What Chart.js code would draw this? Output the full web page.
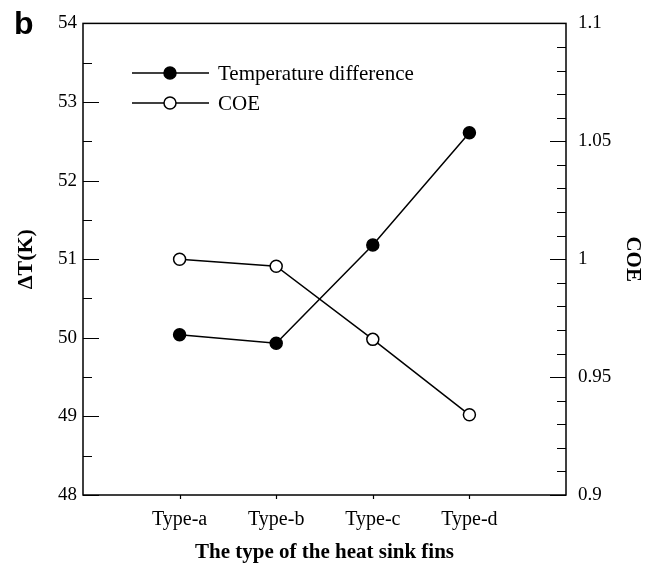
<!DOCTYPE html>
<html>
<head>
<meta charset="utf-8">
<script src="https://cdn.jsdelivr.net/npm/chart.js@4.4.1/dist/chart.umd.min.js"></script>
<style>
  html, body { margin: 0; padding: 0; background: #fff; }
  #wrap { width: 656px; height: 565px; }
</style>
</head>
<body>
<div id="wrap"><canvas id="myChart" width="656" height="565"></canvas></div>
<script>
// data
const categories = ['Type-a', 'Type-b', 'Type-c', 'Type-d'];
const tempDiff = [50.04, 49.93, 51.18, 52.61];
const coe = [1.0, 0.997, 0.966, 0.934];
const leftTicks = [48, 49, 50, 51, 52, 53, 54];
const rightTicks = [0.9, 0.95, 1, 1.05, 1.1];

const serif = "'Liberation Serif', 'Times New Roman', serif";

function toPoints(arr) {
	return arr.map((v, i) => ({ x: i + 1, y: v }));
}

// frame, ticks (major + minor), legend, panel letter
const decor = {
	id: 'decor',
	afterDraw(chart) {
		const c = chart.ctx;
		const a = chart.chartArea;
		const x = chart.scales.x;
		const y = chart.scales.y;
		const y2 = chart.scales.y2;
		c.save();
		c.strokeStyle = '#000';
		c.lineWidth = 1.5;
		c.strokeRect(a.left, a.top, a.right - a.left, a.bottom - a.top);

		c.beginPath();
		for (let v = 48; v <= 54.001; v += 0.5) {
			const py = Math.round(y.getPixelForValue(v)) + 0.5;
			const len = Math.abs(v - Math.round(v)) < 0.01 ? 16 : 9;
			c.moveTo(a.left, py);
			c.lineTo(a.left + len, py);
		}
		for (let k = 0; k <= 20; k++) {
			const v = 0.9 + k * 0.01;
			const py = Math.round(y2.getPixelForValue(v)) + 0.5;
			const len = k % 5 === 0 ? 16 : 9;
			c.moveTo(a.right, py);
			c.lineTo(a.right - len, py);
		}
		categories.forEach((cat, i) => {
			const px = Math.round(x.getPixelForValue(i + 1)) + 0.5;
			c.moveTo(px, a.bottom);
			c.lineTo(px, a.bottom + 4);
		});
		c.lineWidth = 1.2;
		c.stroke();

		// legend
		const rows = [
			{ ds: chart.data.datasets[0], y: 73 },
			{ ds: chart.data.datasets[1], y: 103 }
		];
		rows.forEach(r => {
			c.beginPath();
			c.moveTo(132, r.y);
			c.lineTo(209, r.y);
			c.lineWidth = 1.5;
			c.strokeStyle = '#000';
			c.stroke();
			c.beginPath();
			c.arc(170, r.y, 6, 0, Math.PI * 2);
			c.fillStyle = r.ds.pointBackgroundColor;
			c.fill();
			c.stroke();
			c.fillStyle = '#000';
			c.font = '21px ' + serif;
			c.textAlign = 'left';
			c.textBaseline = 'middle';
			c.fillText(r.ds.label, 218, r.y + 1);
		});

		c.font = 'bold 32px "Liberation Sans", Arial, sans-serif';
		c.textAlign = 'left';
		c.textBaseline = 'alphabetic';
		c.fillText('b', 14, 34);
		c.restore();
	}
};

const ctx = document.getElementById('myChart').getContext('2d');
const myChart = new Chart(ctx, {
	type: 'line',
	data: {
		datasets: [{
			label: 'Temperature difference',
			data: toPoints(tempDiff),
			yAxisID: 'y',
			borderColor: '#000',
			borderWidth: 1.5,
			pointRadius: 6,
			pointBorderWidth: 1.5,
			pointBorderColor: '#000',
			pointBackgroundColor: '#000',
			tension: 0
		}, {
			label: 'COE',
			data: toPoints(coe),
			yAxisID: 'y2',
			borderColor: '#000',
			borderWidth: 1.5,
			pointRadius: 6,
			pointBorderWidth: 1.5,
			pointBorderColor: '#000',
			pointBackgroundColor: '#fff',
			tension: 0
		}]
	},
	options: {
		responsive: false,
		animation: false,
		layout: { padding: { top: 15, left: 0, right: 0, bottom: 0 } },
		plugins: {
			legend: { display: false },
			tooltip: { enabled: false }
		},
		scales: {
			x: {
				type: 'linear',
				min: 0,
				max: 5,
				afterBuildTicks: s => { s.ticks = categories.map((c, i) => ({ value: i + 1 })); },
				afterFit: s => { s.height = 70; },
				grid: { display: false, drawTicks: false },
				border: { display: false },
				ticks: {
					padding: 13,
					color: '#000',
					font: { family: serif, size: 20 },
					callback: v => categories[v - 1] || ''
				},
				title: {
					display: true,
					text: 'The type of the heat sink fins',
					color: '#000',
					font: { family: serif, size: 21, weight: 'bold' },
					padding: { top: 4, bottom: 0 }
				}
			},
			y: {
				position: 'left',
				min: 48,
				max: 54,
				afterBuildTicks: s => { s.ticks = leftTicks.map(v => ({ value: v })); },
				afterFit: s => { s.width = 83; },
				grid: { display: false, drawTicks: false },
				border: { display: false },
				ticks: {
					padding: 6,
					color: '#000',
					font: { family: serif, size: 19 }
				},
				title: {
					display: true,
					text: 'ΔT(K)',
					color: '#000',
					font: { family: serif, size: 22, weight: 'bold' },
					padding: { top: 13, bottom: 0 }
				}
			},
			y2: {
				position: 'right',
				min: 0.9,
				max: 1.1,
				afterBuildTicks: s => { s.ticks = rightTicks.map(v => ({ value: v })); },
				afterFit: s => { s.width = 90; },
				grid: { display: false, drawTicks: false },
				border: { display: false },
				ticks: {
					padding: 12,
					color: '#000',
					font: { family: serif, size: 19 },
					callback: v => String(v)
				},
				title: {
					display: true,
					text: 'COE',
					color: '#000',
					font: { family: serif, size: 21, weight: 'bold' },
					padding: { top: 11, bottom: 0 }
				}
			}
		}
	},
	plugins: [decor]
});
</script>
</body>
</html>
